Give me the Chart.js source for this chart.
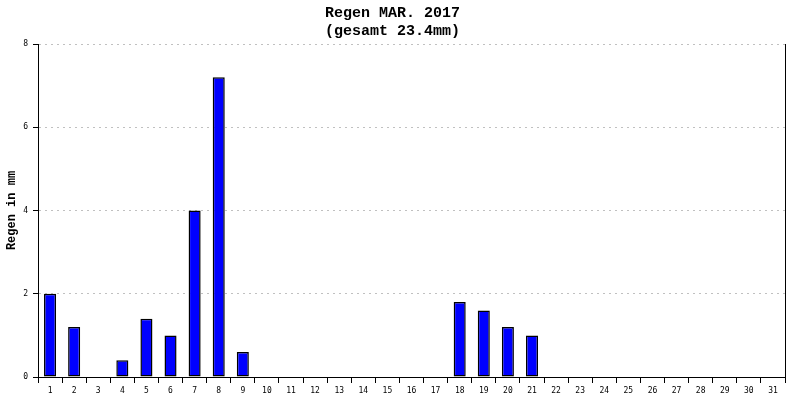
<!DOCTYPE html>
<html>
<head>
<meta charset="utf-8">
<script src="https://cdn.jsdelivr.net/npm/chart.js@4/dist/chart.umd.min.js"></script>
<style>
  html, body { margin: 0; padding: 0; background: #fff; }
  #wrap { width: 800px; height: 400px; }
</style>
</head>
<body>
<div id="wrap"><canvas id="c" width="800" height="400"></canvas></div>
<script>
const days = ['1','2','3','4','5','6','7','8','9','10','11','12','13','14','15','16','17','18','19','20','21','22','23','24','25','26','27','28','29','30','31'];
const rain = [2.0,1.2,0,0.4,1.4,1.0,4.0,7.2,0.6,0,0,0,0,0,0,0,0,1.8,1.6,1.2,1.0,0,0,0,0,0,0,0,0,0,0];
const titleLines = ['Regen MAR. 2017', '(gesamt 23.4mm)'];
const yTitle = 'Regen in mm';
const yTicks = [0, 2, 4, 6, 8];

const mono = 'Liberation Mono, DejaVu Sans Mono, monospace';
const tickFont = 'DejaVu Sans Mono, monospace';

new Chart(document.getElementById('c'), {
  type: 'bar',
  data: {
    labels: days,
    datasets: [{
      data: rain,
      backgroundColor: '#0000ff',
      borderColor: '#000000',
      borderWidth: 1.5,
      borderSkipped: false,
      barPercentage: 0.5,
      categoryPercentage: 1.0
    }]
  },
  options: {
    responsive: false,
    animation: false,
    devicePixelRatio: 1,
    layout: { padding: { left: 0, right: 15, top: 0, bottom: 0 } },
    plugins: {
      legend: { display: false },
      tooltip: { enabled: false },
      title: {
        display: true,
        text: titleLines,
        color: '#000',
        font: { family: mono, size: 15, weight: 'bold', lineHeight: 1.2 },
        padding: { top: 4, bottom: 4 }
      }
    },
    scales: {
      x: {
        offset: true,
        grid: {
          offset: true,
          drawOnChartArea: false,
          color: '#000',
          tickColor: '#000',
          tickLength: 6
        },
        border: { display: true, color: '#000', width: 1 },
        ticks: {
          color: '#000',
          font: { family: tickFont, size: 8 },
          padding: 3,
          maxRotation: 0,
          autoSkip: false
        },
        afterFit: (s) => { s.height = 23; }
      },
      y: {
        min: 0,
        max: 8,
        afterBuildTicks: (s) => { s.ticks = yTicks.map(v => ({ value: v })); },
        grid: {
          color: (ctx) => ctx.tick && ctx.tick.value === 0 ? 'rgba(0,0,0,0)' : '#c0c0c0',
          tickColor: '#000',
          tickLength: 5,
          tickBorderDash: []
        },
        border: { display: true, color: '#000', width: 1, dash: [2, 4] },
        ticks: {
          color: '#000',
          font: { family: tickFont, size: 8 },
          padding: 5
        },
        title: {
          display: true,
          text: yTitle,
          color: '#000',
          font: { family: mono, size: 12, weight: 'bold' },
          padding: { top: 5, bottom: 0 }
        },
        afterFit: (s) => { s.width = 38; }
      },
      y2: {
        position: 'right',
        min: 0,
        max: 8,
        grid: { display: false, drawTicks: false },
        ticks: { display: false },
        border: { display: true, color: '#000', width: 1 },
        afterFit: (s) => { s.width = 0; }
      }
    }
  }
});
</script>
</body>
</html>
